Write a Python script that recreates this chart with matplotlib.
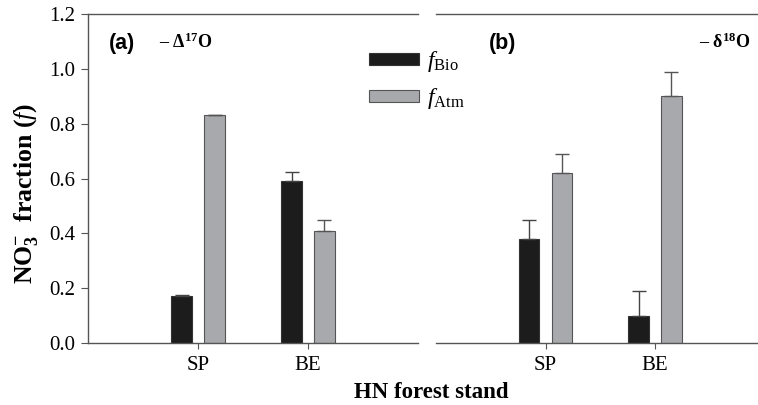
import numpy as np
import matplotlib.pyplot as plt

plt.rcParams['font.family'] = 'Liberation Serif'
plt.rcParams['mathtext.fontset'] = 'custom'
plt.rcParams['mathtext.rm'] = 'Liberation Serif'
plt.rcParams['mathtext.it'] = 'Liberation Serif:italic'
plt.rcParams['mathtext.bf'] = 'Liberation Serif:bold'

# data
stands = ['SP', 'BE']
bio_a = [0.17, 0.59]
bio_a_err = [0.004, 0.035]
atm_a = [0.83, 0.41]
atm_a_err = [0.003, 0.04]
bio_b = [0.38, 0.10]
bio_b_err = [0.07, 0.09]
atm_b = [0.62, 0.90]
atm_b_err = [0.07, 0.09]

black = '#1c1c1c'
gray = '#a8a9ac'
axcol = '#555555'

fig = plt.figure(figsize=(7.58, 4.05), dpi=100)
ax1 = fig.add_axes([88/758, 62/405, 330/758, 329/405])
ax2 = fig.add_axes([436/758, 62/405, 328.5/758, 329/405])

x = np.arange(1, len(stands) + 1)
w = 0.19
off = 0.15

for ax, bio, be, atm, ae in [(ax1, bio_a, bio_a_err, atm_a, atm_a_err),
                             (ax2, bio_b, bio_b_err, atm_b, atm_b_err)]:
    ax.bar(x - off, bio, w, color=black, edgecolor='#333333', linewidth=0.8,
           yerr=[np.zeros(len(be)), be], error_kw=dict(ecolor='#444444', elinewidth=1, capsize=5, capthick=1),
           label=r'$f_{\mathrm{Bio}}$')
    ax.bar(x + off, atm, w, color=gray, edgecolor='#555555', linewidth=0.8,
           yerr=[np.zeros(len(ae)), ae], error_kw=dict(ecolor='#555555', elinewidth=1, capsize=5, capthick=1),
           label=r'$f_{\mathrm{Atm}}$')
    ax.set_xlim(0, 3)
    ax.set_ylim(0, 1.2)
    ax.set_xticks(x)
    ax.set_xticklabels(stands, fontsize=15)
    ax.spines['right'].set_visible(False)
    for s in ['top', 'bottom', 'left']:
        ax.spines[s].set_color(axcol)
        ax.spines[s].set_linewidth(1.0)
    ax.tick_params(axis='x', direction='out', length=4, color=axcol, pad=5)
    ax.tick_params(axis='y', direction='out', length=5, color=axcol, labelsize=15, pad=4)
    ax.set_facecolor('none')

ax1.set_yticks(np.arange(0, 1.21, 0.2))
ax1.set_yticklabels(['%.1f' % v for v in np.arange(0, 1.21, 0.2)])
ax2.spines['left'].set_visible(False)
ax2.tick_params(axis='y', left=False, labelleft=False)

ax1.set_ylabel(r'NO$^{\mathbf{-}}_{\mathbf{3}}$  fraction ($\mathbf{\mathit{f}}$)', fontsize=18.5,
               fontweight='bold')
ax1.yaxis.set_label_coords(-0.145, 0.455)
fig.text(431/758, 1 - 392/405, 'HN forest stand', fontsize=16.5, fontweight='bold',
         ha='center', va='center')

ax1.text(0.064, 0.909, '(a)', transform=ax1.transAxes, fontsize=15.5, fontweight='bold',
         family='Liberation Sans', va='center', ha='left')
ax1.text(0.215, 0.915, r'– Δ$^{\mathbf{17}}$O', transform=ax1.transAxes, fontsize=13,
         fontweight='bold', va='center', ha='left')
ax2.text(0.160, 0.909, '(b)', transform=ax2.transAxes, fontsize=15.5, fontweight='bold',
         family='Liberation Sans', va='center', ha='left')
ax2.text(0.80, 0.915, r'– δ$^{\mathbf{18}}$O', transform=ax2.transAxes, fontsize=13,
         fontweight='bold', va='center', ha='left')

ax1.legend(loc='upper left', bbox_to_anchor=((360 - 88)/330, (343 - 40)/329), frameon=False,
           fontsize=17, handlelength=2.1, handleheight=0.42, labelspacing=0.5,
           handletextpad=0.35, borderaxespad=0)

fig.savefig('out.png', dpi=100)
